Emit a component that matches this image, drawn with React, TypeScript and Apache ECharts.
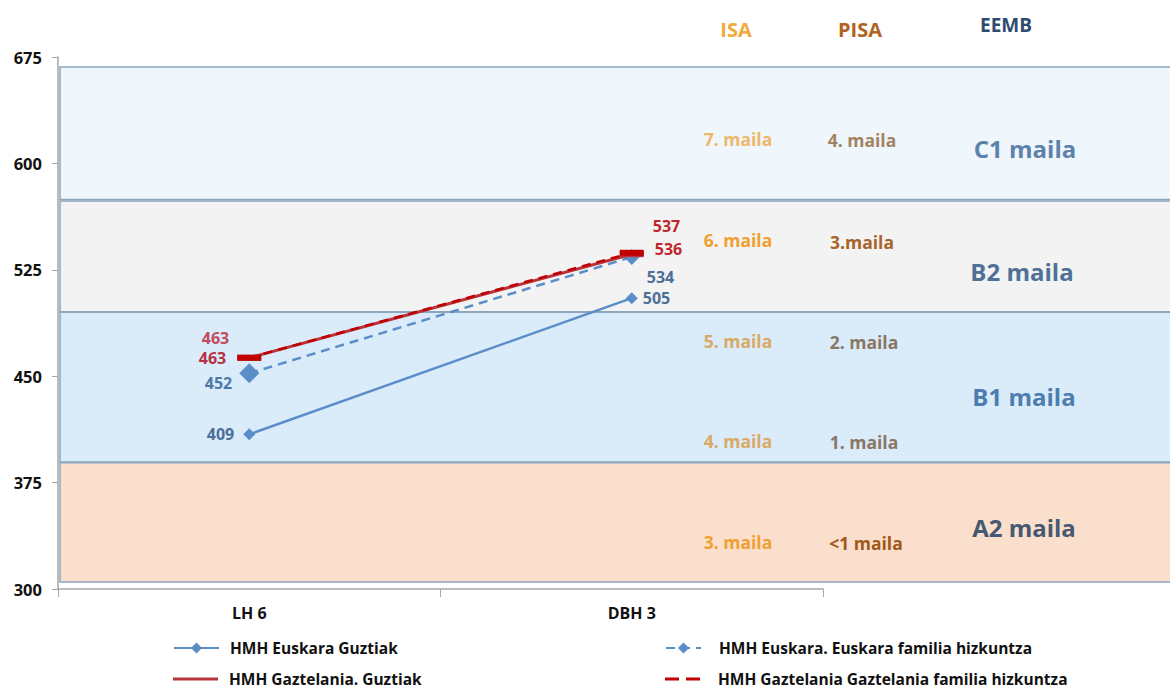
import React, { useEffect, useRef } from "react";
import * as echarts from "echarts";

const categories = ["LH 6", "DBH 3"];
const yTicks = { min: 300, max: 675, interval: 75 };

const seriesNames = [
  "HMH Euskara Guztiak",
  "HMH Euskara. Euskara familia hizkuntza",
  "HMH Gaztelania. Guztiak",
  "HMH Gaztelania Gaztelania familia hizkuntza",
];
const euskaraGuztiak = [409, 505];
const euskaraFamilia = [452, 534];
const gaztelaniaGuztiak = [463, 536];
const gaztelaniaFamilia = [463, 537];

// bands: [top value, bottom value, fill]
const bandNames = ["C1", "B2", "B1", "A2"];
const bandTop = [668, 573.5, 495, 389];
const bandBottom = [574.5, 495.5, 389.5, 305];
const bandFill = ["#EFF6FC", "#F3F3F3", "#DAEBFA", "#FADFCC"];

const FONT = "'Open Sans'";

export default function App() {
  const ref = useRef<HTMLDivElement>(null);
  useEffect(() => {
    const chart = echarts.init(ref.current!, null, { renderer: "svg" });
    const blue = "#5B8DC8";
    const red = "#B8343A";
    const redDash = "#C00000";
    const lbl = (color: string, position: any, offset: number[]) => ({
      show: true,
      position,
      offset,
      color,
      fontFamily: FONT,
      fontWeight: "bold",
      fontSize: 16,
      lineHeight: 17,
    });
    const bandText = (x: number, y: number, text: string, color: string, size: number) => ({
      type: "text",
      x,
      y,
      style: {
        text,
        fill: color,
        font: `bold ${size}px ${FONT}`,
        align: "center",
        verticalAlign: "middle",
      },
      z: 10,
    });
    const legendText = { color: "#111", fontFamily: FONT, fontWeight: "bold", fontSize: 15.5, padding: [0, 0, 0, 6] };
    chart.setOption({
      animation: false,
      backgroundColor: "#ffffff",
      grid: [
        { left: 58, right: 347, top: 57, bottom: 102, containLabel: false },
        { left: 60, right: 0, top: 57, bottom: 102, containLabel: false },
      ],
      xAxis: [
        {
          type: "category",
          data: categories,
          gridIndex: 0,
          boundaryGap: true,
          axisLine: { show: true, lineStyle: { color: "#A6A6A6", width: 1.5 } },
          axisTick: { show: true, length: 8, lineStyle: { color: "#A6A6A6" } },
          axisLabel: { color: "#111", fontFamily: FONT, fontWeight: "bold", fontSize: 16, margin: 16 },
          z: 5,
        },
        { type: "value", gridIndex: 1, min: 0, max: 1, show: false },
      ],
      yAxis: [
        {
          type: "value",
          gridIndex: 0,
          min: yTicks.min,
          max: yTicks.max,
          interval: yTicks.interval,
          axisLine: { show: true, lineStyle: { color: "#A6A6A6", width: 1.5 } },
          axisTick: { show: true, length: 6, lineStyle: { color: "#A6A6A6" } },
          splitLine: { show: false },
          axisLabel: { color: "#111", fontFamily: FONT, fontWeight: "bold", fontSize: 16.5, margin: 16 },
          z: 5,
        },
        { type: "value", gridIndex: 1, min: yTicks.min, max: yTicks.max, show: false },
      ],
      legend: [
        {
          data: [seriesNames[0]],
          left: 168,
          top: 635,
          itemWidth: 45,
          itemHeight: 14,
          textStyle: legendText,
        },
        {
          data: [seriesNames[1]],
          left: 660,
          top: 635,
          itemWidth: 35,
          itemHeight: 14,
          textStyle: { ...legendText, padding: [0, 0, 0, 13] },
        },
        {
          data: [{ name: seriesNames[2], icon: "rect" }],
          left: 168,
          top: 666,
          itemWidth: 45,
          itemHeight: 3,
          textStyle: legendText,
        },
        {
          data: [{ name: seriesNames[3], icon: "path://M0,0h14v3h-14z M21,0h14v3h-14z" }],
          left: 660,
          top: 666,
          itemWidth: 35,
          itemHeight: 3,
          textStyle: { ...legendText, padding: [0, 0, 0, 13] },
        },
      ],
      graphic: [
        bandText(736, 29, "ISA", "#F2A93B", 20),
        bandText(860, 29, "PISA", "#B0621E", 20),
        bandText(1006, 25, "EEMB", "#2F4B70", 19),
        bandText(738, 139, "7. maila", "#EDB868", 17.5),
        bandText(862, 140, "4. maila", "#A2835F", 17.5),
        bandText(1025, 148, "C1 maila", "#5C82AA", 24),
        bandText(738, 240, "6. maila", "#F0A030", 17.5),
        bandText(862, 242, "3.maila", "#A8642A", 17.5),
        bandText(1022, 271, "B2 maila", "#4F7198", 24),
        bandText(738, 341, "5. maila", "#D8AA66", 17.5),
        bandText(864, 342, "2. maila", "#8A7665", 17.5),
        bandText(1024, 396, "B1 maila", "#4D7DAE", 24),
        bandText(738, 441, "4. maila", "#D8AA66", 17.5),
        bandText(864, 442, "1. maila", "#8A7665", 17.5),
        bandText(738, 542, "3. maila", "#F0A030", 17.5),
        bandText(866, 543, "<1 maila", "#A0581A", 17.5),
        bandText(1024, 527, "A2 maila", "#475872", 24),
      ],
      series: [
        {
          type: "custom",
          name: "bands",
          xAxisIndex: 1,
          yAxisIndex: 1,
          z: 0,
          silent: true,
          data: bandNames.map((n, i) => [bandTop[i], bandBottom[i], i]),
          renderItem: (params: any, api: any) => {
            const top = api.value(0);
            const bottom = api.value(1);
            const i = api.value(2);
            const p0 = api.coord([0, top]);
            const p1 = api.coord([1, bottom]);
            return {
              type: "rect",
              shape: { x: p0[0], y: p0[1], width: p1[0] - p0[0] + 2, height: p1[1] - p0[1] },
              style: { fill: bandFill[i], stroke: "#8CA6BD", lineWidth: 1.5 },
            };
          },
        },
        {
          type: "line",
          name: seriesNames[0],
          z: 3,
          data: [
            { value: euskaraGuztiak[0], label: lbl("#4E6F98", "left", [-4, 0]) },
            { value: euskaraGuztiak[1], label: lbl("#4E6F98", "right", [0, 0]) },
          ],
          symbol: "diamond",
          symbolSize: 12,
          itemStyle: { color: blue },
          lineStyle: { color: blue, width: 2.5 },
        },
        {
          type: "line",
          name: seriesNames[1],
          z: 4,
          data: [
            { value: euskaraFamilia[0], symbolSize: 20, label: lbl("#4D79A8", "left", [-2, 10]) },
            { value: euskaraFamilia[1], symbolSize: 16, label: lbl("#4E6F98", "right", [2, 20]) },
          ],
          symbol: "diamond",
          itemStyle: { color: blue },
          lineStyle: { color: blue, width: 2.5, type: [9, 6] },
        },
        {
          type: "line",
          name: seriesNames[2],
          z: 5,
          data: [
            { value: gaztelaniaGuztiak[0], label: lbl("#B5323E", "left", [-6, 0]) },
            { value: gaztelaniaGuztiak[1], label: lbl("#C0262B", "right", [6, -5]) },
          ],
          symbol: "rect",
          symbolSize: [24, 6],
          itemStyle: { color: red },
          lineStyle: { color: red, width: 3 },
        },
        {
          type: "line",
          name: seriesNames[3],
          z: 5,
          data: [
            { value: gaztelaniaFamilia[0], label: lbl("#C24A5C", "left", [-3, -20]) },
            { value: gaztelaniaFamilia[1], label: lbl("#C0262B", "right", [4, -27]) },
          ],
          symbol: "rect",
          symbolSize: [24, 6],
          itemStyle: { color: redDash },
          lineStyle: { color: redDash, width: 2.5, type: [9, 6] },
        },
      ],
    });
    return () => chart.dispose();
  }, []);
  return (
    <div
      ref={ref}
      style={{ position: "fixed", left: 0, top: 0, width: 1170, height: 691, background: "#fff" }}
    />
  );
}
